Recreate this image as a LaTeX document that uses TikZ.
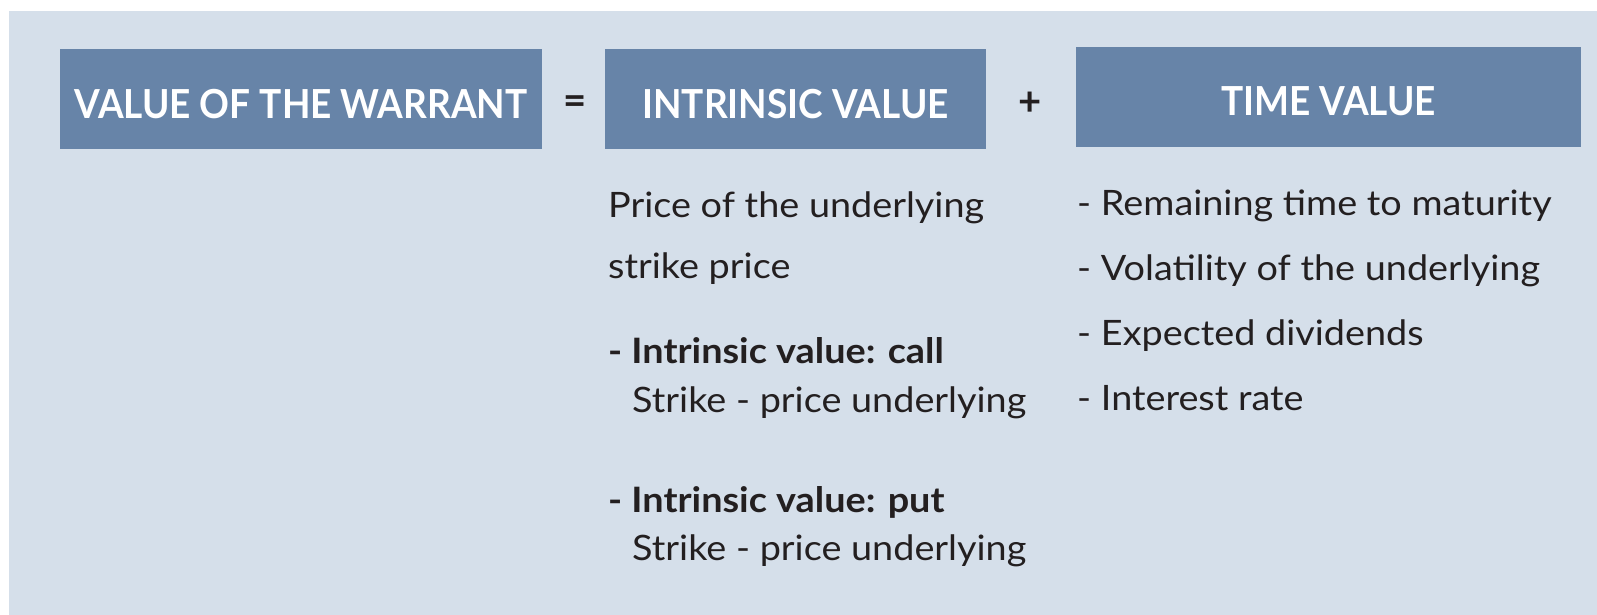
\documentclass[tikz,border=0pt]{standalone}
\usepackage{fontspec}
\setmainfont{Lato}
\newfontfamily\headfont{Lato}[FakeStretch=0.925]
\newfontfamily\bodyfont{Lato}[FakeStretch=1.08]
\usetikzlibrary{positioning}

\definecolor{panelbg}{RGB}{213,223,234}
\definecolor{boxblue}{RGB}{103,132,168}
\definecolor{inkdark}{RGB}{35,31,32}

\begin{document}
\begin{tikzpicture}[x=1pt, y=-1pt,
  headbox/.style={fill=boxblue, text=white, inner sep=0pt, minimum height=100pt,
                  text height=38pt, text depth=0pt,
                  font=\headfont\fontsize{40}{40}\selectfont\bfseries},
  opsign/.style={text=inkdark, inner sep=0pt, font=\fontsize{40}{40}\selectfont\bfseries},
  body/.style={text=inkdark, anchor=base west, inner sep=0pt, align=left},
  bodysize/.style={font=\bodyfont\fontsize{35}{#1}\selectfont}]

\useasboundingbox (0,0) rectangle (1597,615);
\fill[panelbg] (9,11) rectangle (1597,615);

% top row
\node[headbox, minimum width=482pt] (warrant)   at (301,99)    {VALUE OF THE WARRANT};
\node[headbox, minimum width=381pt] (intrinsic) at (795.5,99)  {INTRINSIC VALUE};
\node[headbox, minimum width=505pt] (timeval)   at (1328.5,97) {TIME VALUE};

\node[opsign] (eq)   at (575,105)  {=};
\node[opsign] (plus) at (1030,104) {+};

% intrinsic value column (anchored on the last line)
\node[body, bodysize=61] (price) at (608,278) {Price of the underlying\\strike price};
\node[body, bodysize=49] (call)  at (608,412) {\textbf{- Intrinsic value: call}\\\hspace*{24pt}Strike - price underlying};
\node[body, bodysize=48] (put)   at (608,560) {\textbf{- Intrinsic value: put}\\\hspace*{24pt}Strike - price underlying};

% time value column
\node[body, bodysize=64.7] (factors) at (1077,410)
  {- Remaining time to maturity\\- Volatility of the underlying\\- Expected dividends\\- Interest rate};

\end{tikzpicture}
\end{document}
